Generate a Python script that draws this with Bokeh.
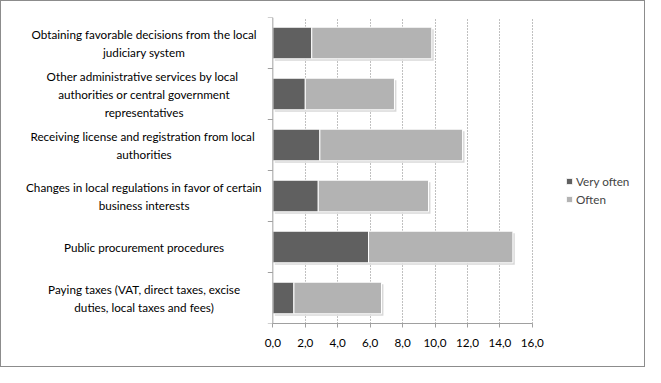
from bokeh.plotting import figure
from bokeh.models import (Range1d, FixedTicker, CustomJSTickFormatter, Span,
                          Legend, LegendItem, ColumnDataSource)
from bokeh.core.properties import value
from bokeh.embed import file_html
from bokeh.resources import INLINE

categories = [
    "Obtaining favorable decisions from the local\njudiciary system",
    "Other administrative  services by local\nauthorities or central government\nrepresentatives",
    "Receiving license and registration  from local\nauthorities",
    "Changes in local regulations in favor of certain\nbusiness interests",
    "Public procurement procedures",
    "Paying taxes (VAT, direct taxes, excise\nduties, local taxes and fees)",
]
very_often = [2.4, 2.0, 2.9, 2.8, 5.9, 1.3]
often = [7.4, 5.5, 8.8, 6.8, 8.9, 5.4]
x_ticks = [0, 2, 4, 6, 8, 10, 12, 14, 16]
series_names = ["Very often", "Often"]

n = len(categories)
ys = [n - i - 0.5 for i in range(n)]
totals = [a + b for a, b in zip(very_often, often)]
bounds_y = list(range(n + 1))

src = ColumnDataSource(dict(y=ys, vo=very_often, tot=totals,
                            zero=[0] * n,
                            sh_y=[y - 0.04 for y in ys],
                            sh_l=[0.12] * n,
                            sh_r=[t + 0.12 for t in totals]))

FONT = "Lato"

# frame spans the full figure width; x=0 sits ~271px from the left edge
p = figure(width=645, height=367, output_backend="svg", toolbar_location=None,
           x_range=Range1d(-16.73, 23.04), y_range=Range1d(0, n),
           y_axis_location=None,
           min_border_left=0, min_border_right=0,
           min_border_top=16, min_border_bottom=45)
p.styles = {"border": "1px solid #8c8c8c", "box-sizing": "border-box"}
p.outline_line_color = None
p.background_fill_color = "white"

# gridlines
p.ygrid.grid_line_color = None
p.xgrid.ticker = FixedTicker(ticks=x_ticks[1:])
p.xgrid.grid_line_color = "#808080"
p.xgrid.grid_line_dash = "1 2"

# shadow
p.hbar(y="sh_y", left="sh_l", right="sh_r", height=0.62, source=src,
       fill_color="#cfcfcf", line_color=None, fill_alpha=0.8)

r1 = p.hbar(y="y", left="zero", right="vo", height=0.62, source=src,
            fill_color="#606060", line_color="white", line_width=1)
r2 = p.hbar(y="y", left="vo", right="tot", height=0.62, source=src,
            fill_color="#b3b3b3", line_color="white", line_width=1)

# y axis line and boundary ticks
p.add_layout(Span(location=0, dimension="height", line_color="#a0a0a0",
                  line_width=1))
p.segment(x0=[-0.31] * (n + 1), x1=[0] * (n + 1), y0=bounds_y, y1=bounds_y,
          line_color="#a0a0a0", line_width=1)

# x axis
xa = p.xaxis[0]
xa.bounds = (x_ticks[0], x_ticks[-1])
xa.ticker = FixedTicker(ticks=x_ticks)
xa.formatter = CustomJSTickFormatter(code="return tick.toFixed(1).replace('.', ',');")
xa.axis_line_color = "#a0a0a0"
xa.major_tick_line_color = "#a0a0a0"
xa.major_tick_out = 4
xa.major_tick_in = 0
xa.minor_tick_line_color = None
xa.major_label_text_font = FONT
xa.major_label_text_font_size = "11.7px"
xa.major_label_text_color = "#000000"
xa.major_label_standoff = 11

# category labels
p.text(x=[-7.94] * n, y=ys, text=categories, text_align="center",
       text_baseline="middle", text_font=value(FONT),
       text_font_size="11.7px", text_color="#000000", text_line_height=1.3)

legend = Legend(items=[LegendItem(label=series_names[0], renderers=[r1]),
                       LegendItem(label=series_names[1], renderers=[r2])],
                location=(564, 117), glyph_width=8, glyph_height=8,
                label_text_font=FONT, label_text_font_size="11.7px",
                label_standoff=3, spacing=4, padding=0, margin=0,
                border_line_color=None, background_fill_alpha=0)
p.add_layout(legend)

open("out.html", "w").write(file_html(p, INLINE))
